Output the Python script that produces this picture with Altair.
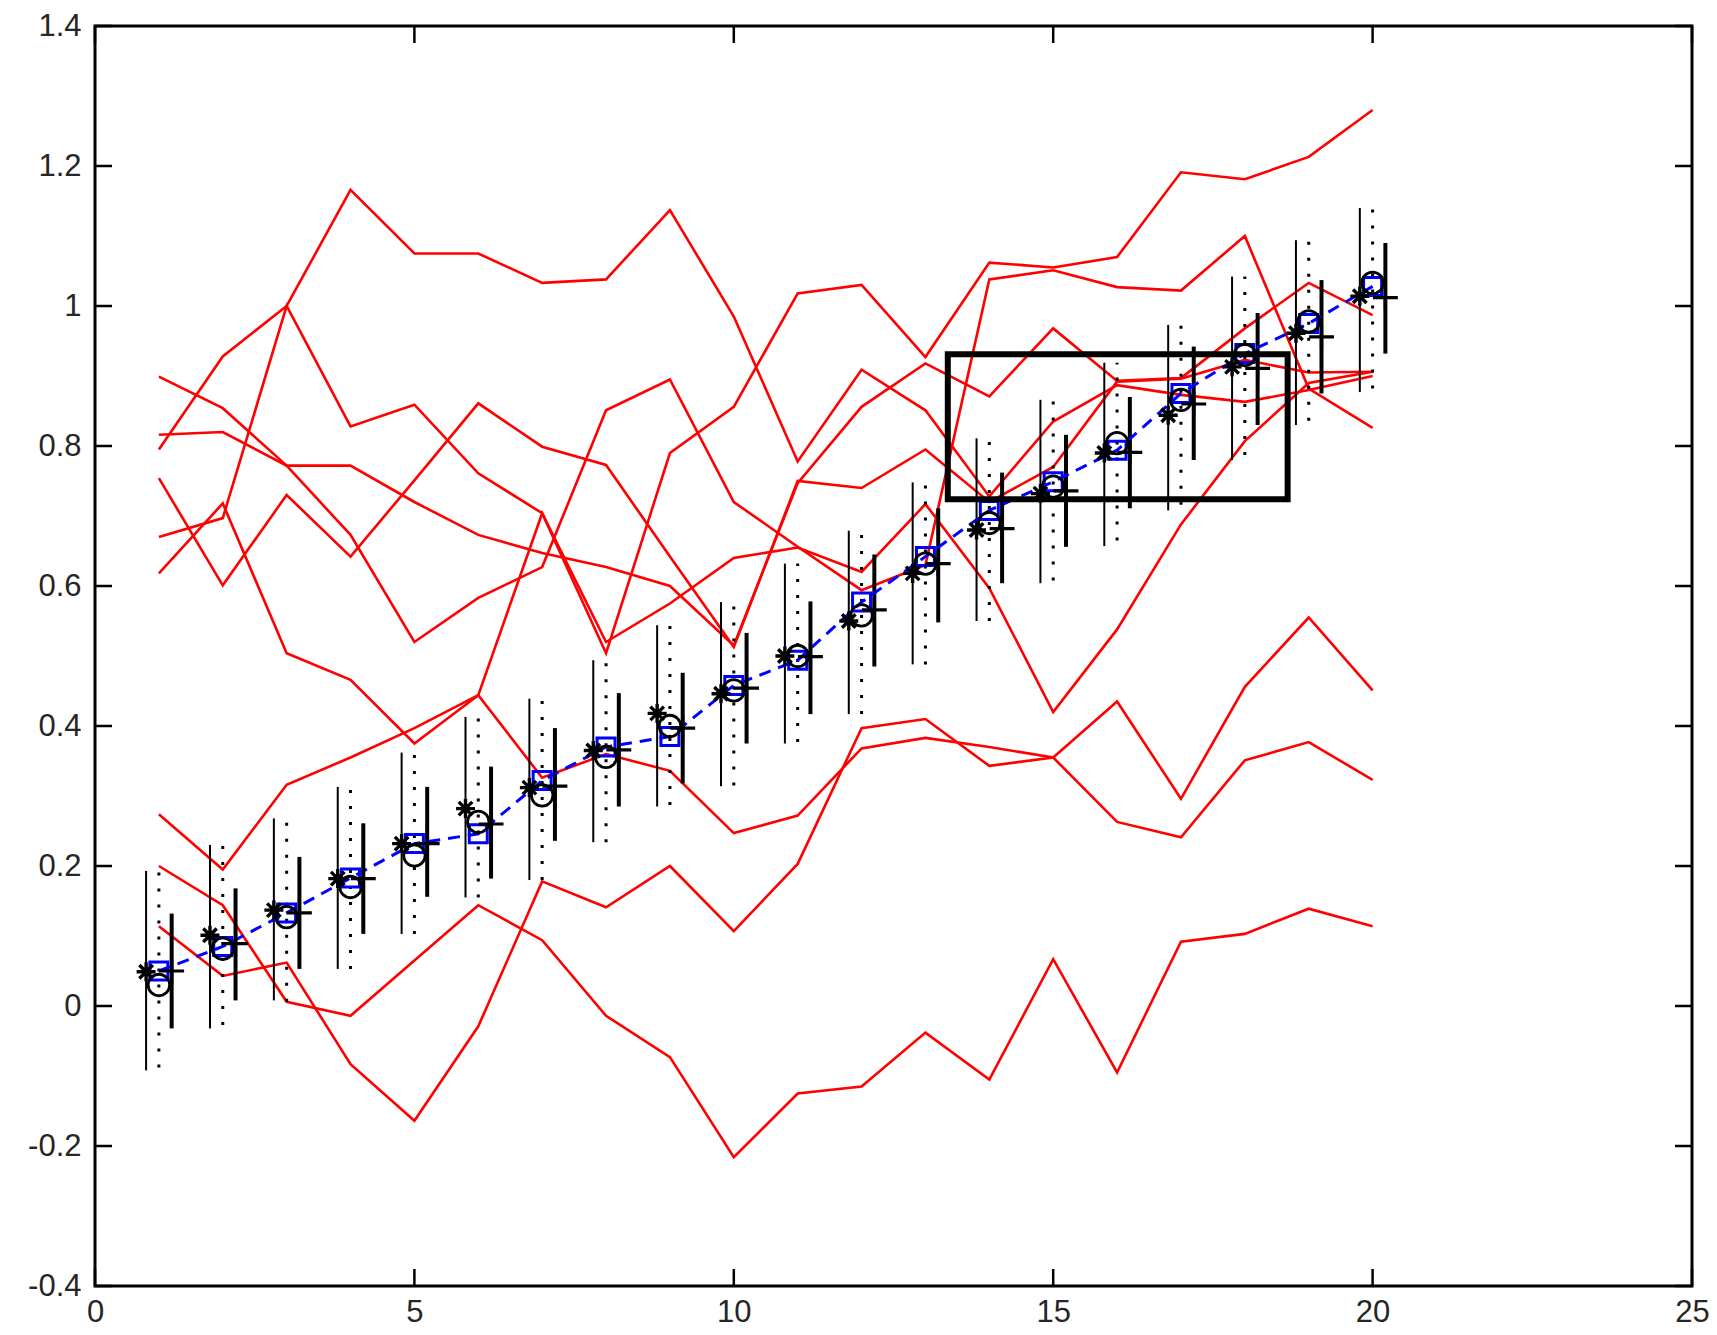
import altair as alt
import pandas as pd

# ---------------- data ----------------
steps = list(range(1, 21))

red_a = [0.795, 0.928, 1.000, 1.166, 1.075, 1.075, 1.033, 1.038, 1.137, 0.985, 0.778, 0.909, 0.851, 0.728, 0.835, 0.887, 0.873, 0.863, 0.880, 0.900]
red_b = [0.899, 0.854, 0.772, 0.673, 0.520, 0.583, 0.627, 0.851, 0.895, 0.720, 0.656, 0.594, 0.630, 1.038, 1.051, 1.027, 1.022, 1.100, 0.882, 0.826]
red_c = [0.816, 0.820, 0.772, 0.772, 0.720, 0.673, 0.647, 0.627, 0.600, 0.515, 0.747, 0.856, 0.918, 0.871, 0.968, 0.893, 0.897, 0.968, 1.033, 0.987]
red_d = [0.754, 0.601, 0.730, 0.642, 0.751, 0.861, 0.799, 0.773, 0.642, 0.513, 0.750, 0.740, 0.795, 0.720, 0.770, 0.892, 0.896, 0.923, 0.905, 0.906]
red_e = [0.670, 0.697, 1.000, 0.828, 0.859, 0.761, 0.704, 0.520, 0.575, 0.640, 0.655, 0.620, 0.717, 0.597, 0.420, 0.538, 0.688, 0.807, 0.890, 0.906]
red_f = [0.618, 0.718, 0.504, 0.466, 0.375, 0.444, 0.704, 0.504, 0.790, 0.856, 1.018, 1.030, 0.927, 1.062, 1.055, 1.070, 1.191, 1.181, 1.213, 1.280]
red_g = [0.274, 0.195, 0.316, 0.355, 0.397, 0.444, 0.326, 0.360, 0.336, 0.247, 0.272, 0.368, 0.383, 0.370, 0.355, 0.263, 0.241, 0.351, 0.377, 0.323]
red_h = [0.114, 0.043, 0.062, -0.083, -0.164, -0.029, 0.178, 0.141, 0.200, 0.107, 0.203, 0.397, 0.410, 0.343, 0.355, 0.435, 0.296, 0.456, 0.555, 0.451]
red_i = [0.200, 0.144, 0.006, -0.014, 0.065, 0.144, 0.094, -0.014, -0.073, -0.216, -0.125, -0.115, -0.038, -0.105, 0.067, -0.095, 0.092, 0.103, 0.139, 0.114]
red_names = ["a", "b", "c", "d", "e", "f", "g", "h", "i"]
red_values = [red_a, red_b, red_c, red_d, red_e, red_f, red_g, red_h, red_i]

thin_lo = [-0.092, -0.032, 0.008, 0.053, 0.103, 0.155, 0.180, 0.234, 0.285, 0.314, 0.375, 0.417, 0.488, 0.550, 0.604, 0.657, 0.708, 0.780, 0.830, 0.877]
thin_hi = [0.193, 0.230, 0.268, 0.313, 0.362, 0.413, 0.439, 0.494, 0.544, 0.577, 0.632, 0.679, 0.748, 0.811, 0.866, 0.919, 0.973, 1.042, 1.094, 1.140]
dot_lo = [-0.088, -0.027, 0.006, 0.053, 0.103, 0.155, 0.180, 0.234, 0.287, 0.315, 0.377, 0.417, 0.488, 0.550, 0.608, 0.665, 0.716, 0.787, 0.836, 0.882]
dot_hi = [0.194, 0.229, 0.268, 0.313, 0.362, 0.412, 0.440, 0.494, 0.548, 0.577, 0.632, 0.680, 0.748, 0.811, 0.866, 0.919, 0.973, 1.042, 1.094, 1.140]
thick_lo = [-0.032, 0.008, 0.053, 0.103, 0.156, 0.182, 0.236, 0.285, 0.318, 0.375, 0.417, 0.485, 0.548, 0.604, 0.656, 0.711, 0.780, 0.830, 0.875, 0.932]
thick_hi = [0.132, 0.168, 0.213, 0.261, 0.313, 0.342, 0.397, 0.447, 0.476, 0.533, 0.578, 0.645, 0.711, 0.762, 0.816, 0.870, 0.942, 0.990, 1.037, 1.090]
star_y = [0.049, 0.101, 0.137, 0.182, 0.232, 0.282, 0.312, 0.365, 0.418, 0.446, 0.500, 0.550, 0.618, 0.680, 0.732, 0.790, 0.844, 0.913, 0.961, 1.014]
circle_y = [0.030, 0.082, 0.127, 0.170, 0.215, 0.263, 0.301, 0.356, 0.400, 0.451, 0.500, 0.558, 0.632, 0.690, 0.742, 0.804, 0.866, 0.930, 0.978, 1.033]
square_y = [0.050, 0.085, 0.133, 0.183, 0.232, 0.246, 0.322, 0.370, 0.385, 0.458, 0.494, 0.577, 0.642, 0.708, 0.749, 0.794, 0.875, 0.932, 0.975, 1.028]
plus_y = [0.050, 0.089, 0.133, 0.182, 0.232, 0.260, 0.314, 0.366, 0.397, 0.454, 0.499, 0.566, 0.632, 0.682, 0.736, 0.791, 0.860, 0.911, 0.956, 1.012]

box_x = [13.35, 18.67]
box_y = [0.724, 0.931]

x_ticks = [0, 5, 10, 15, 20, 25]
y_ticks = [-0.4, -0.2, 0, 0.2, 0.4, 0.6, 0.8, 1.0, 1.2, 1.4]

# ---------------- layout / style ----------------
W, H = 1597, 1260
TICK = 17
SHIFT = 0.2
FONT = "Liberation Sans"
LABEL_COLOR = "#262626"
FONT_SIZE = 31

red_df = pd.DataFrame(
    [{"x": s, "v": v, "series": n} for n, vals in zip(red_names, red_values) for s, v in zip(steps, vals)]
)
bars = pd.DataFrame({
    "x": steps,
    "x_left": [s - SHIFT for s in steps],
    "x_right": [s + SHIFT for s in steps],
    "thin_lo": thin_lo, "thin_hi": thin_hi,
    "dot_lo": dot_lo, "dot_hi": dot_hi,
    "thick_lo": thick_lo, "thick_hi": thick_hi,
    "star": star_y, "circ": circle_y, "sq": square_y, "plus": plus_y,
})
box_df = pd.DataFrame({"x1": [box_x[0]], "x2": [box_x[1]], "y1": [box_y[0]], "y2": [box_y[1]]})
xt_df = pd.DataFrame({"t": x_ticks})
yt_df = pd.DataFrame({"t": y_ticks})

xs = alt.Scale(domain=[0, 25], nice=False, zero=False)
ys = alt.Scale(domain=[-0.4, 1.4], nice=False, zero=False)

x_axis = alt.Axis(values=x_ticks, title=None, grid=False, ticks=False, domain=False,
                  labelFont=FONT, labelFontSize=FONT_SIZE, labelColor=LABEL_COLOR,
                  labelPadding=11, labelFlush=False, labelOverlap=False)
y_axis = alt.Axis(values=y_ticks, title=None, grid=False, ticks=False, domain=False,
                  labelFont=FONT, labelFontSize=FONT_SIZE, labelColor=LABEL_COLOR,
                  labelPadding=14, labelFlush=False, labelOverlap=False,
                  labelExpr="replace(format(datum.value, '~g'), '\u2212', '-')")


def X(field):
    return alt.X(field, scale=xs, axis=x_axis)


def Y(field):
    return alt.Y(field, scale=ys, axis=y_axis)


red = alt.Chart(red_df).mark_line(color="#ff0000", strokeWidth=2.6).encode(
    x=X("x:Q"), y=Y("v:Q"), detail="series:N")

base = alt.Chart(bars)
thin = base.mark_rule(color="black", strokeWidth=2).encode(
    x=X("x_left:Q"), y=Y("thin_lo:Q"), y2="thin_hi:Q")
dotted = base.mark_rule(color="black", strokeWidth=3, strokeDash=[3, 13]).encode(
    x=X("x:Q"), y=Y("dot_lo:Q"), y2="dot_hi:Q")
thick = base.mark_rule(color="black", strokeWidth=4).encode(
    x=X("x_right:Q"), y=Y("thick_lo:Q"), y2="thick_hi:Q")

mean_line = base.mark_line(color="#0000ff", strokeWidth=3, strokeDash=[12, 8]).encode(
    x=X("x:Q"), y=Y("sq:Q"))
squares = base.mark_point(shape="square", size=324, color="#0000ff", filled=False,
                          strokeWidth=3, opacity=1).encode(x=X("x:Q"), y=Y("sq:Q"))
circles = base.mark_point(shape="circle", size=460, color="black", filled=False,
                          strokeWidth=2.8, opacity=1).encode(x=X("x:Q"), y=Y("circ:Q"))
stars = base.mark_point(shape="M-1,0L1,0M0,-1L0,1M-0.71,-0.71L0.71,0.71M-0.71,0.71L0.71,-0.71",
                        size=361, color="black", filled=False, strokeWidth=3.4,
                        opacity=1).encode(x=X("x_left:Q"), y=Y("star:Q"))
pluses = base.mark_point(shape="M-1,0L1,0M0,-1L0,1", size=620, color="black", filled=False,
                         strokeWidth=3.2, opacity=1).encode(x=X("x_right:Q"), y=Y("plus:Q"))

box = alt.Chart(box_df).mark_rect(filled=False, color="black", strokeWidth=6).encode(
    x=X("x1:Q"), x2="x2:Q", y=Y("y1:Q"), y2="y2:Q")

tick_bottom = alt.Chart(xt_df).mark_rule(color="black", strokeWidth=2.5).encode(
    x=X("t:Q"), y=alt.value(H), y2=alt.value(H - TICK))
tick_top = alt.Chart(xt_df).mark_rule(color="black", strokeWidth=2.5).encode(
    x=X("t:Q"), y=alt.value(0), y2=alt.value(TICK))
tick_left = alt.Chart(yt_df).mark_rule(color="black", strokeWidth=2.5).encode(
    y=Y("t:Q"), x=alt.value(0), x2=alt.value(TICK))
tick_right = alt.Chart(yt_df).mark_rule(color="black", strokeWidth=2.5).encode(
    y=Y("t:Q"), x=alt.value(W), x2=alt.value(W - TICK))

chart = alt.layer(
    red, thin, dotted, thick, mean_line, squares, circles, stars, pluses, box,
    tick_bottom, tick_top, tick_left, tick_right,
).properties(
    width=W, height=H,
    autosize=alt.AutoSizeParams(type="none"),
    padding={"left": 95, "top": 26, "right": 25, "bottom": 49},
    background="white",
).configure_view(stroke="black", strokeWidth=3)

chart.save("out.html", embed_options={"renderer": "svg", "actions": False})
